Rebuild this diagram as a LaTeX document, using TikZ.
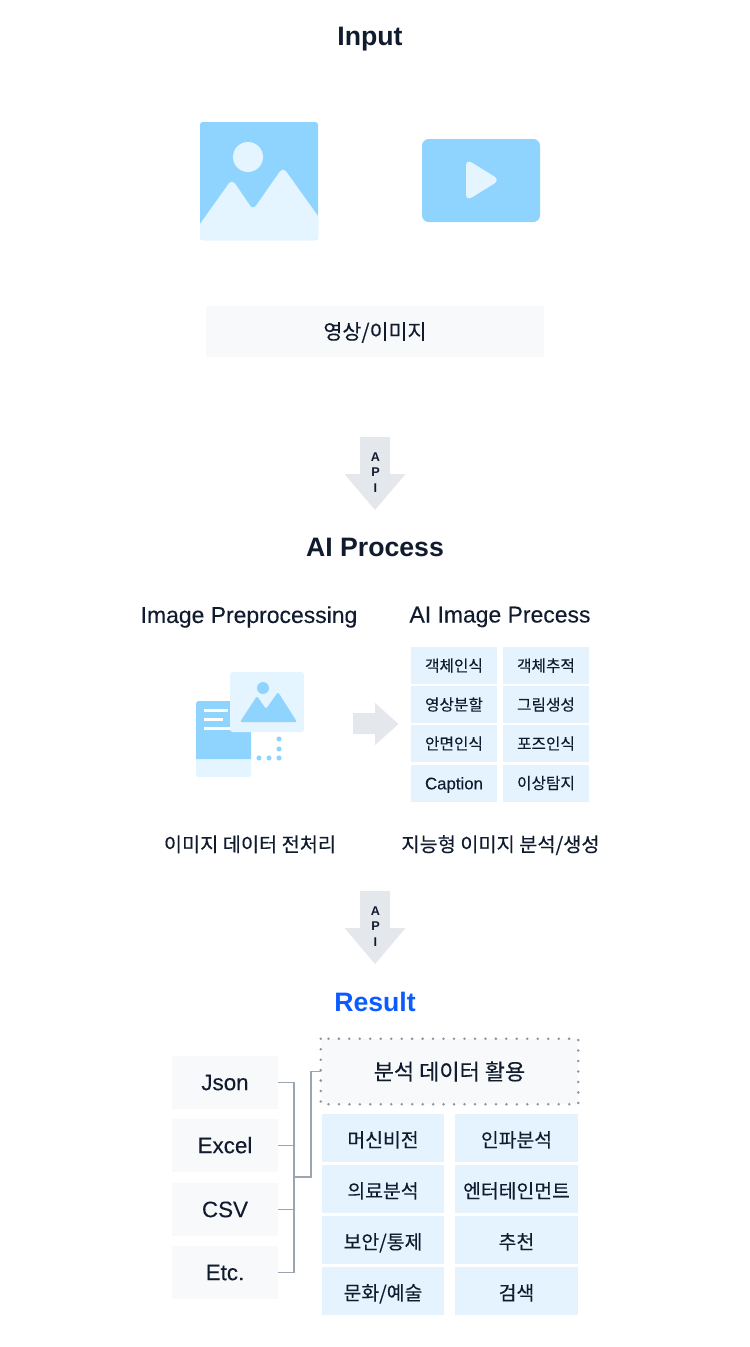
\documentclass[tikz,border=0pt]{standalone}
\usepackage{fontspec}
\setmainfont{Liberation Sans}
\newfontfamily\kr{Noto Sans CJK KR}[FakeBold=0.2]
\newfontfamily\medium{Liberation Sans}[FakeBold=0.2]
\definecolor{skyblue}{HTML}{8FD4FF}
\definecolor{paleblue}{HTML}{E5F5FF}
\definecolor{cellblue}{HTML}{E4F3FE}
\definecolor{softgray}{HTML}{F8F9FB}
\definecolor{arrowgray}{HTML}{E4E7EB}
\definecolor{linegray}{HTML}{9AA5B1}
\definecolor{dotgray}{HTML}{8A96A3}
\definecolor{inktext}{HTML}{111B2E}
\definecolor{resultblue}{HTML}{0B5CFF}
\tikzset{
  headline/.style={text=inktext, font=\fontsize{20}{24}\selectfont\bfseries},
  subhead/.style={text=inktext, font=\medium\fontsize{17.2}{20}\selectfont},
  krlabel/.style={text=inktext, inner sep=0pt, text height=11.5pt, text depth=0pt, font=\kr\fontsize{14.8}{18}\selectfont},
  softbox/.style={fill=softgray, text=inktext, inner sep=0pt},
  smallcell/.style={fill=cellblue, text=inktext, inner sep=0pt, minimum width=64.5pt, minimum height=27.75pt, text height=9pt, text depth=0pt, font=\kr\fontsize{11.8}{13}\selectfont},
  widecell/.style={fill=cellblue, text=inktext, inner sep=0pt, minimum width=92pt, minimum height=36pt, text height=13.5pt, text depth=0pt, font=\kr\fontsize{14.5}{16}\selectfont},
  apiletter/.style={text=inktext, inner sep=0pt, font=\fontsize{9.5}{11}\selectfont\bfseries},
  connector/.style={draw=linegray, line width=1pt}
}
\begin{document}
\begin{tikzpicture}[x=0.75pt,y=-0.75pt]
    \useasboundingbox (0,0) rectangle (750,1347);

    % Input
    \node[headline] (inputtitle) at (370,39) {Input};
    \fill[skyblue, rounded corners=2pt] (200,122) rectangle (318,240);
    \fill[paleblue] (200,224) [rounded corners=4pt] -- (232,179) -- (253,210) -- (283,167) [sharp corners] -- (318,216) [rounded corners=2pt] -- (318,240) -- (200,240) [sharp corners] -- cycle;
    \fill[paleblue] (248,157) circle (11.25pt);
    \fill[skyblue, rounded corners=5pt] (422,139) rectangle (540,222);
    \fill[paleblue, rounded corners=5pt] (466,180) -- (466,159) -- (500,180) -- (466,201) -- cycle;
    \node[softbox, minimum width=253.5pt, minimum height=38.25pt, text height=11.5pt, text depth=0pt, font=\kr\fontsize{15.5}{18}\selectfont] (mediabox) at (375,331.5) {영상/이미지};

    % Down arrows with API letters
    \foreach \top/\name in {437/firstapi, 891/secondapi} {
        \fill[arrowgray] (360,\top) -- (390,\top) -- (390,\top+37) -- (405.5,\top+37) -- (375,\top+73) -- (344.5,\top+37) -- (360,\top+37) -- cycle;
        \node[apiletter] (\name a) at (375.5,\top+20) {A};
        \node[apiletter] (\name p) at (375.5,\top+35.5) {P};
        \node[apiletter] (\name i) at (375.5,\top+51) {I};
    }

    % AI Process
    \node[headline] (processtitle) at (375,547) {AI Process};
    \node[subhead] (pretitle) at (249,617) {Image Preprocessing};
    \node[subhead] (imagetitle) at (500,617) {AI Image Precess};

    % Preprocessing icon
    \fill[paleblue, rounded corners=2pt] (196,750) rectangle (251,777);
    \fill[skyblue] (196,759) [rounded corners=2pt] -- (196,701) -- (251,701) [sharp corners] -- (251,759) -- cycle;
    \fill[white] (204,708.5) rectangle (228,711.5);
    \fill[white] (204,717.5) rectangle (223,720.5);
    \fill[white] (204,727) rectangle (230,730);
    \fill[paleblue, rounded corners=2pt] (230,672) rectangle (304,732);
    \fill[skyblue, rounded corners=1.5pt] (240,722) -- (257,696) -- (266,709) -- (278,692) -- (297,722) -- cycle;
    \fill[skyblue] (263,688) circle (4.5pt);
    \foreach \x/\y in {279/739, 279/749, 279/758, 269/758, 259/758} {
        \fill[skyblue] (\x,\y) circle (1.9pt);
    }
    \fill[arrowgray] (353,713) -- (375,713) -- (375,703) -- (398.5,724) -- (375,745) -- (375,734) -- (353,734) -- cycle;

    % Small grid
    \foreach \x/\y/\name/\label in {
        454/665.5/detect/객체인식,
        546/665.5/track/객체추적,
        454/704.5/segment/영상분할,
        546/704.5/draw/그림생성,
        454/743.5/face/안면인식,
        546/743.5/pose/포즈인식,
        546/783/anomaly/이상탐지
    } {
        \node[smallcell] (\name) at (\x,\y) {\label};
    }
    \node[smallcell, text height=9.5pt, text depth=0pt, font=\medium\fontsize{12.6}{14}\selectfont] (caption) at (454,783) {Caption};

    \node[krlabel] (prelabel) at (250,844) {이미지 데이터 전처리};
    \node[krlabel] (imagelabel) at (500.5,844) {지능형 이미지 분석/생성};

    % Result
    \node[headline, text=resultblue] (resulttitle) at (375,1002) {Result};
    \foreach \y/\name/\label in {1082.5/jsonbox/Json, 1145.5/excelbox/Excel, 1209.5/csvbox/CSV, 1272.5/etcbox/Etc.} {
        \node[softbox, minimum width=79.5pt, minimum height=39.75pt, text height=11.5pt, text depth=0pt, font=\medium\fontsize{16.8}{20}\selectfont] (\name) at (225,\y) {\label};
    }
    \node[softbox, minimum width=192.75pt, minimum height=48.75pt, text height=12.5pt, text depth=0pt, font=\kr\fontsize{16.5}{18}\selectfont] (usebox) at (449.5,1071.5) {분석 데이터 활용};
    \draw[dotgray, line width=2.1pt, dash pattern=on 0pt off 7.85pt, line cap=round] (usebox.north west) rectangle (usebox.south east);

    \foreach \x/\y/\name/\label in {
        383/1138/vision/머신비전,
        516.5/1138/crowd/인파분석,
        383/1189/medical/의료분석,
        516.5/1189/enter/엔터테인먼트,
        383/1240/security/{보안/통제},
        516.5/1240/recommend/추천,
        383/1291/culture/{문화/예술},
        516.5/1291/search/검색
    } {
        \node[widecell] (\name) at (\x,\y) {\label};
    }

    % Connectors
    \coordinate (joint) at (294,1177);
    \coordinate (elbow) at (311,1177);
    \draw[connector] (jsonbox.east) -- (jsonbox.east -| joint) -- (etcbox.east -| joint) -- (etcbox.east);
    \draw[connector] (excelbox.east) -- (excelbox.east -| joint);
    \draw[connector] (csvbox.east) -- (csvbox.east -| joint);
    \draw[connector] (joint) -- (elbow) |- (usebox.west);
\end{tikzpicture}
\end{document}
